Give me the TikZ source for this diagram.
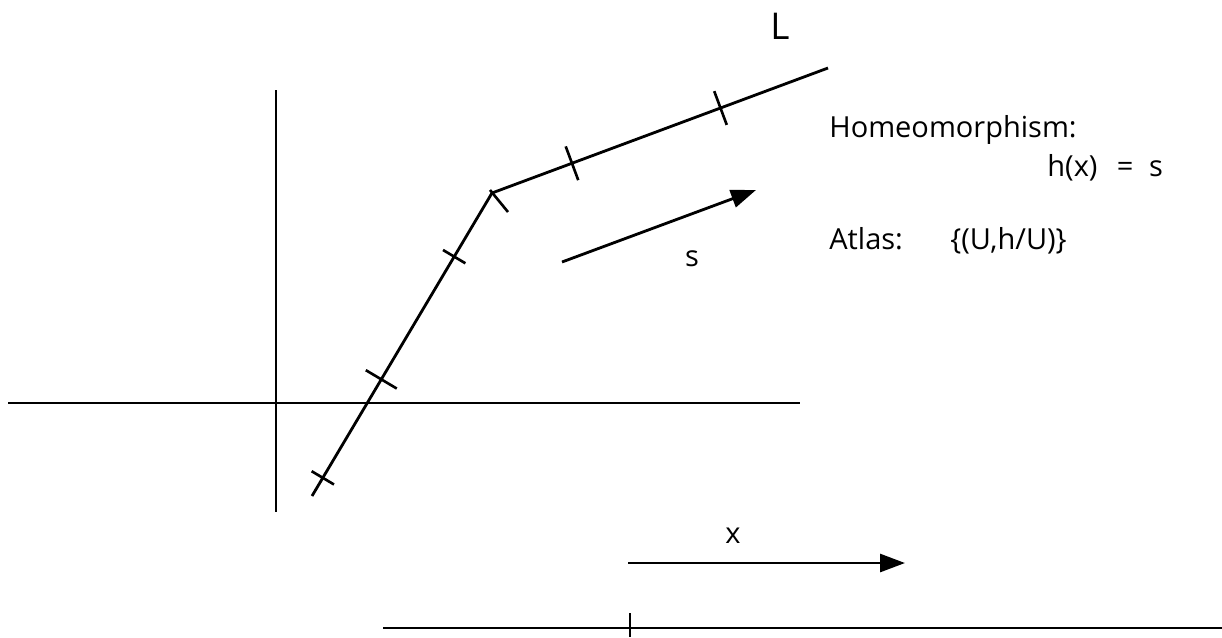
\documentclass[tikz,border=0pt]{standalone}
\usepackage{fontspec}
\setmainfont{Open Sans}
\usetikzlibrary{arrows.meta,calc}
\begin{document}
\begin{tikzpicture}[x=0.02cm,y=-0.02cm,
  ln/.style={line width=1.6pt},
  tk/.style={line width=1.5pt},
  arr/.style={line width=1.6pt,-{Triangle[length=0.5cm,width=0.36cm]}},
  lbl/.style={inner sep=0pt,font=\fontsize{16.5}{19}\selectfont},
  big/.style={inner sep=0pt,font=\fontsize{21}{24}\selectfont}]
\useasboundingbox (0,0) rectangle (1222,637);
% axes
\coordinate (hl) at (8,403);
\coordinate (hr) at (800,403);
\coordinate (vt) at (276,90);
\coordinate (vb) at (276,512);
\draw[ln] (hl) -- (hr);
\draw[ln] (vt) -- (vb);
% polyline L
\coordinate (A) at (312,496);
\coordinate (B) at (492,193);
\coordinate (C) at (828,68);
\draw[ln,line join=miter] (A) -- (B) -- (C);
% ticks on first segment
\foreach \f/\h in {0.06/0.26,0.385/0.36,0.79/0.26}{
  \coordinate (t) at ($(A)!\f!(B)$);
  \draw[tk] ($(t)!\h cm!90:(B)$) -- ($(t)!\h cm!-90:(B)$);
}
\coordinate (k1) at (490,190);
\coordinate (k2) at (508,212);
\draw[tk] (k1) -- (k2);
% ticks on second segment
\foreach \f in {0.238,0.68}{
  \coordinate (t) at ($(B)!\f!(C)$);
  \draw[tk] ($(t)!0.36cm!90:(C)$) -- ($(t)!0.36cm!-90:(C)$);
}
% s arrow
\coordinate (s1) at (562,262);
\coordinate (s2) at (756,190);
\draw[arr] (s1) -- (s2);
\node[lbl] (slab) at (692,259) {s};
% x arrow
\coordinate (x1) at (628,563);
\coordinate (x2) at (905,563);
\draw[arr] (x1) -- (x2);
\node[lbl] (xlab) at (733,536) {x};
% bottom line
\coordinate (b1) at (383,628);
\coordinate (b2) at (1222,628);
\draw[ln] (b1) -- (b2);
\coordinate (bt1) at (630,613);
\coordinate (bt2) at (630,637);
\draw[tk] (bt1) -- (bt2);
% labels
\node[big,anchor=base] (L) at (780,39) {L};
\node[lbl,anchor=base west] (hom) at (829,137) {Homeomorphism:};
\node[lbl,anchor=base west] (hx) at (1047,176) {h(x)\hspace{11pt}=\hspace{9pt}s};
\node[lbl,anchor=base west] (atl) at (829,249) {Atlas:\hspace{27pt}\{(U,h/U)\}};
\end{tikzpicture}
\end{document}
